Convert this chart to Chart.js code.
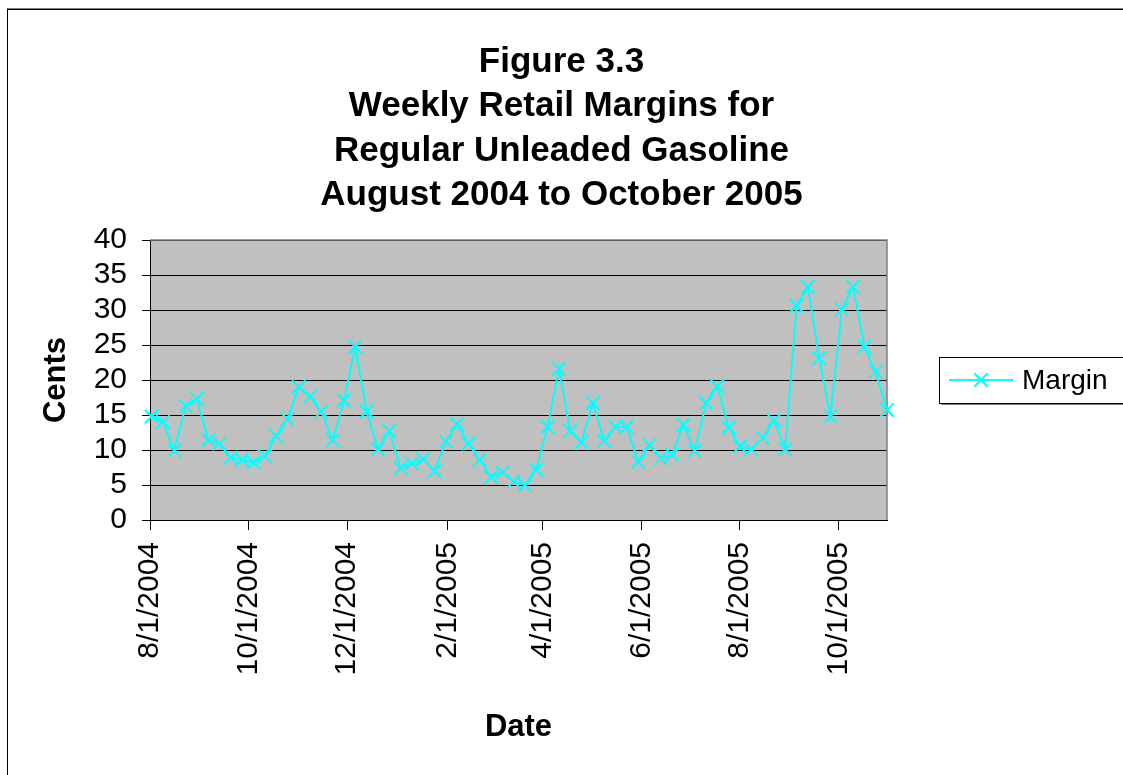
<!DOCTYPE html>
<html>
<head>
<meta charset="utf-8">
<title>Figure 3.3 - Weekly Retail Margins for Regular Unleaded Gasoline</title>
<script src="https://cdn.jsdelivr.net/npm/chart.js@4.4.1/dist/chart.umd.min.js"></script>
<style>
    html, body { margin: 0; padding: 0; background: #fff; }
    #marginChart { display: block; }
</style>
</head>
<body>
<canvas id="marginChart" width="1123" height="775"></canvas>
<script>
/**
 * Weekly retail margins (cents), one value per Monday
 */
const weekDates = [
    '8/2/2004', '8/9/2004', '8/16/2004', '8/23/2004', '8/30/2004', '9/6/2004', '9/13/2004',
    '9/20/2004', '9/27/2004', '10/4/2004', '10/11/2004', '10/18/2004', '10/25/2004', '11/1/2004',
    '11/8/2004', '11/15/2004', '11/22/2004', '11/29/2004', '12/6/2004', '12/13/2004', '12/20/2004',
    '12/27/2004', '1/3/2005', '1/10/2005', '1/17/2005', '1/24/2005', '1/31/2005', '2/7/2005',
    '2/14/2005', '2/21/2005', '2/28/2005', '3/7/2005', '3/14/2005', '3/21/2005', '3/28/2005',
    '4/4/2005', '4/11/2005', '4/18/2005', '4/25/2005', '5/2/2005', '5/9/2005', '5/16/2005',
    '5/23/2005', '5/30/2005', '6/6/2005', '6/13/2005', '6/20/2005', '6/27/2005', '7/4/2005',
    '7/11/2005', '7/18/2005', '7/25/2005', '8/1/2005', '8/8/2005', '8/15/2005', '8/22/2005',
    '8/29/2005', '9/5/2005', '9/12/2005', '9/19/2005', '9/26/2005', '10/3/2005', '10/10/2005',
    '10/17/2005', '10/24/2005', '10/31/2005'
];

const margins = [
    14.8, 14.0, 9.9, 16.3, 17.3, 11.4, 10.9, 8.9, 8.6, 8.2, 9.1,
    12.0, 14.4, 19.0, 17.6, 15.5, 11.4, 17.1, 24.7, 15.5, 10.1, 12.7,
    7.4, 8.1, 8.7, 7.0, 11.2, 13.7, 10.9, 8.6, 6.1, 6.8, 5.5,
    5.0, 7.2, 13.3, 21.6, 12.7, 11.1, 16.7, 11.3, 13.3, 13.3, 8.3,
    10.7, 8.8, 9.3, 13.6, 9.9, 16.7, 19.1, 13.2, 10.5, 10.1, 11.7,
    14.2, 10.1, 30.6, 33.3, 23.1, 14.8, 30.1, 33.3, 24.7, 21.2, 15.7
];

const xTickLabels = ['8/1/2004', '10/1/2004', '12/1/2004', '2/1/2005',
                     '4/1/2005', '6/1/2005', '8/1/2005', '10/1/2005'];
const xAxisEnd = '10/31/2005';
const yTicks = [0, 5, 10, 15, 20, 25, 30, 35, 40];

const titleLines = ['Figure 3.3', 'Weekly Retail Margins for',
                    'Regular Unleaded Gasoline', 'August 2004 to October 2005'];
const seriesLabel = 'Margin';

const FONT = 'Arial, "Liberation Sans", sans-serif';
const CYAN = '#00ffff';

/**
 * Days since the first axis label, so the x axis is a plain linear day scale
 * @param {string} s - date as m/d/yyyy
 */
function dayOf(s) {
    const [m, d, y] = s.split('/').map(Number);
    const [m0, d0, y0] = xTickLabels[0].split('/').map(Number);
    return (Date.UTC(y, m - 1, d) - Date.UTC(y0, m0 - 1, d0)) / 86400000;
}

/**
 * Excel style frame: white page with outer border, gray plot area
 */
const plotFrame = {
    id: 'plotFrame',
    beforeDraw(chart) {
        const { ctx, chartArea: a } = chart;
        ctx.save();
        ctx.fillStyle = '#fff';
        ctx.fillRect(0, 0, chart.width, chart.height);

        // outer chart border, runs off the right and bottom edges
        ctx.lineWidth = 1;
        ctx.strokeStyle = '#808080';
        ctx.beginPath();
        ctx.moveTo(7, 8.5);
        ctx.lineTo(chart.width, 8.5);
        ctx.stroke();
        ctx.strokeStyle = '#000';
        ctx.strokeRect(7.5, 9.5, chart.width + 20, chart.height + 20);

        ctx.fillStyle = '#c0c0c0';
        ctx.fillRect(a.left, a.top, a.right - a.left, a.bottom - a.top);
        ctx.restore();
    },
    beforeDatasetsDraw(chart) {
        const { ctx, chartArea: a } = chart;
        ctx.save();
        ctx.strokeStyle = '#808080';
        ctx.lineWidth = 1.5;
        ctx.beginPath();
        ctx.moveTo(a.left, a.top);
        ctx.lineTo(a.right, a.top);
        ctx.lineTo(a.right, a.bottom);
        ctx.stroke();
        ctx.restore();
    }
};

/**
 * Boxed legend to the right of the plot, cut by the page edge like the original
 */
const boxLegend = {
    id: 'boxLegend',
    afterDraw(chart) {
        const { ctx, chartArea: a } = chart;
        const ds = chart.data.datasets[0];
        const left = a.right + 52;
        const midY = (a.top + a.bottom) / 2;
        const h = 46;
        const top = midY - h / 2;
        const w = chart.width - left + 20;

        ctx.save();
        // shadow, then box
        ctx.fillStyle = '#808080';
        ctx.fillRect(left + 2, top + 2, w, h);
        ctx.fillStyle = '#fff';
        ctx.fillRect(left, top, w, h);
        ctx.strokeStyle = '#000';
        ctx.lineWidth = 1;
        ctx.strokeRect(left + 0.5, top + 0.5, w, h);

        // line sample with cross marker
        const x0 = left + 10, x1 = left + 74, cx = (x0 + x1) / 2;
        ctx.strokeStyle = ds.borderColor;
        ctx.lineWidth = ds.borderWidth;
        ctx.beginPath();
        ctx.moveTo(x0, midY);
        ctx.lineTo(x1, midY);
        const r = ds.pointRadius * Math.SQRT1_2;
        ctx.moveTo(cx - r, midY - r);
        ctx.lineTo(cx + r, midY + r);
        ctx.moveTo(cx + r, midY - r);
        ctx.lineTo(cx - r, midY + r);
        ctx.stroke();

        ctx.fillStyle = '#000';
        ctx.font = `28px ${FONT}`;
        ctx.textAlign = 'left';
        ctx.textBaseline = 'middle';
        ctx.fillText(ds.label, left + 83, midY + 1);
        ctx.restore();
    }
};

document.addEventListener('DOMContentLoaded', () => {
    initMarginChart();
});

/**
 * Line chart of weekly margins on a day based x axis
 */
function initMarginChart() {
    const ctx = document.getElementById('marginChart');
    if (!ctx) return;

    new Chart(ctx, {
        type: 'line',
        data: {
            datasets: [{
                label: seriesLabel,
                data: weekDates.map((d, i) => ({ x: dayOf(d), y: margins[i] })),
                borderColor: CYAN,
                backgroundColor: CYAN,
                borderWidth: 2,
                pointStyle: 'crossRot',
                pointRadius: 9.5,
                pointBorderWidth: 2,
                pointBorderColor: CYAN,
                tension: 0,
                clip: false
            }]
        },
        options: {
            responsive: false,
            animation: false,
            layout: { padding: 0 },
            plugins: {
                legend: { display: false },
                tooltip: { enabled: false },
                title: {
                    display: true,
                    text: titleLines,
                    color: '#000',
                    font: { family: FONT, size: 35, weight: 'bold', lineHeight: 44.5 / 35 },
                    padding: { top: 40, bottom: 22 }
                }
            },
            scales: {
                x: {
                    type: 'linear',
                    min: dayOf(xTickLabels[0]),
                    max: dayOf(xAxisEnd),
                    afterBuildTicks: scale => {
                        scale.ticks = xTickLabels.map(s => ({ value: dayOf(s) }));
                    },
                    afterFit: scale => { scale.height = 255; },
                    ticks: {
                        autoSkip: false,
                        minRotation: 90,
                        maxRotation: 90,
                        padding: 12,
                        color: '#000',
                        font: { family: FONT, size: 30 },
                        callback: (value, index) => xTickLabels[index]
                    },
                    grid: {
                        drawOnChartArea: false,
                        tickLength: 10,
                        color: '#000'
                    },
                    border: { color: '#000', width: 1 },
                    title: {
                        display: true,
                        text: 'Date',
                        color: '#000',
                        font: { family: FONT, size: 31, weight: 'bold' },
                        padding: { top: 0, bottom: 29 }
                    }
                },
                y: {
                    min: yTicks[0],
                    max: yTicks[yTicks.length - 1],
                    afterBuildTicks: scale => {
                        scale.ticks = yTicks.map(v => ({ value: v }));
                    },
                    afterFit: scale => { scale.width = 150; },
                    ticks: {
                        autoSkip: false,
                        padding: 15,
                        color: '#000',
                        font: { family: FONT, size: 30 }
                    },
                    grid: {
                        color: '#000',
                        tickLength: 8
                    },
                    border: { color: '#000', width: 1 },
                    title: {
                        display: true,
                        text: 'Cents',
                        color: '#000',
                        font: { family: FONT, size: 31, weight: 'bold' },
                        padding: { top: 38, bottom: 0 }
                    }
                },
                // empty right-hand axis keeps room for the legend
                legendSpace: {
                    position: 'right',
                    afterFit: scale => { scale.width = 236; },
                    ticks: { display: false },
                    grid: { display: false },
                    border: { display: false }
                }
            }
        },
        plugins: [plotFrame, boxLegend]
    });
}
</script>
</body>
</html>
